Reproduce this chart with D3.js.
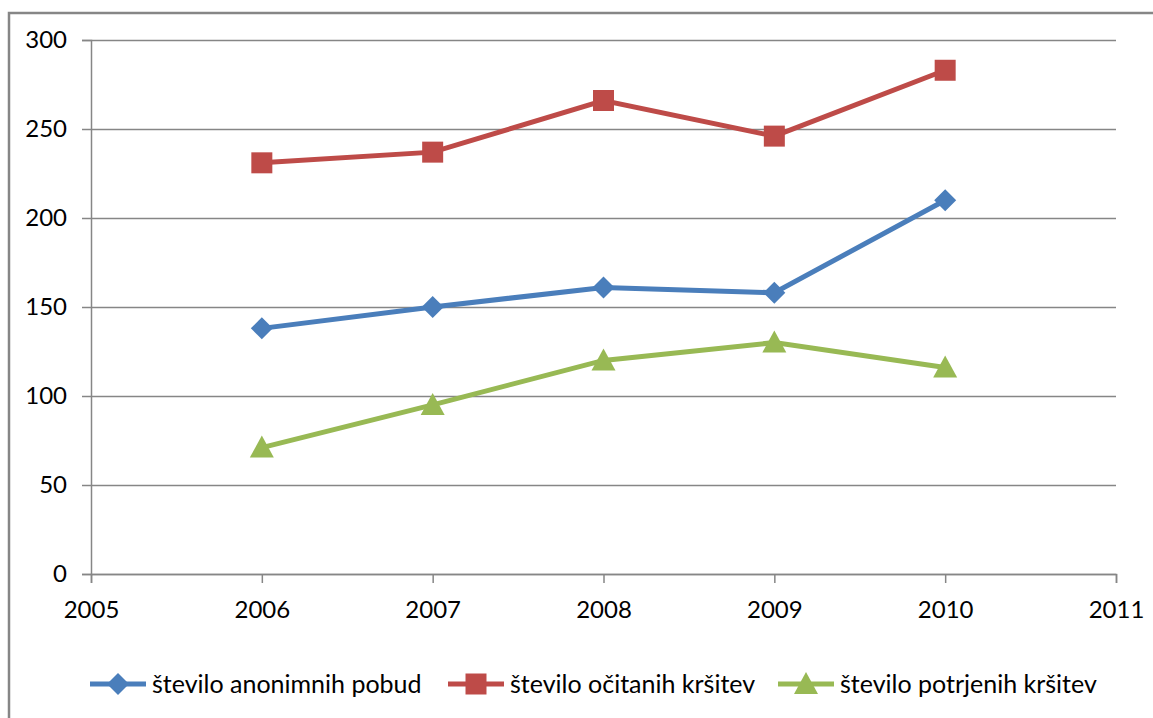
<!DOCTYPE html>
<html>
<head>
<meta charset="utf-8">
<script src="https://cdn.jsdelivr.net/npm/d3@7"></script>
<style>
  body { margin: 0; background: #fff; }
  text { font-family: Lato, "Open Sans", sans-serif; fill: #000; }
</style>
</head>
<body>
<div id="chart"></div>
<script>
var years = [2006, 2007, 2008, 2009, 2010];
var anonimnih = [138, 150, 161, 158, 210];
var ocitanih = [231, 237, 266, 246, 283];
var potrjenih = [71, 95, 120, 130, 116];
var yTicks = [0, 50, 100, 150, 200, 250, 300];
var xTicks = [2005, 2006, 2007, 2008, 2009, 2010, 2011];

// marker shapes (Excel-like)
var diamond = "M0,-11L11,0L0,11L-11,0Z";
var square = "M-10.5,-10.5H10.5V10.5H-10.5Z";
var triangle = "M0,-12L12,10H-12Z";

var series = [
  {name: "število anonimnih pobud", values: anonimnih, color: "#4a7ebb", marker: diamond},
  {name: "število očitanih kršitev", values: ocitanih, color: "#be4b48", marker: square},
  {name: "število potrjenih kršitev", values: potrjenih, color: "#98b954", marker: triangle}
];

var width = 1153, height = 718;
var margin = {top: 40, right: 37, bottom: 144, left: 91};

var svg = d3.select("#chart").append("svg")
  .attr("width", width)
  .attr("height", height);

// chart frame
svg.append("rect")
  .attr("x", 9).attr("y", 13)
  .attr("width", width).attr("height", height)
  .attr("fill", "none")
  .attr("stroke", "#868686")
  .attr("stroke-width", 2.5);

var x = d3.scaleLinear()
  .domain([2005, 2011])
  .range([margin.left, width - margin.right]);

var y = d3.scaleLinear()
  .domain([0, 300])
  .range([height - margin.bottom, margin.top]);

// gridlines
svg.append("g")
  .attr("transform", "translate(" + margin.left + ",0)")
  .call(d3.axisLeft(y).tickValues(yTicks).tickSize(-(width - margin.right - margin.left)).tickFormat(""))
  .call(function(g) { g.select(".domain").remove(); })
  .selectAll("line").attr("stroke", "#868686").attr("stroke-width", 1.5);

// y axis
var yAxis = svg.append("g")
  .attr("transform", "translate(" + margin.left + ",0)")
  .call(d3.axisLeft(y).tickValues(yTicks).tickSize(9).tickPadding(15));
yAxis.select(".domain").attr("stroke", "#868686").attr("stroke-width", 1.5);
yAxis.selectAll("line").attr("stroke", "#868686").attr("stroke-width", 1.5);
yAxis.selectAll("text").style("font-size", "24px").attr("fill", "#000");

// x axis
var xAxis = svg.append("g")
  .attr("transform", "translate(0," + y(0) + ")")
  .call(d3.axisBottom(x).tickValues(xTicks).tickFormat(d3.format("d")).tickSize(9).tickPadding(18));
xAxis.select(".domain").attr("stroke", "#868686").attr("stroke-width", 1.5);
xAxis.selectAll("line").attr("stroke", "#868686").attr("stroke-width", 1.5);
xAxis.selectAll("text").style("font-size", "24px").attr("fill", "#000");

var line = d3.line()
  .x(function(d, i) { return x(years[i]); })
  .y(function(d) { return y(d); });

series.forEach(function(s) {
  svg.append("path")
    .datum(s.values)
    .attr("d", line)
    .attr("fill", "none")
    .attr("stroke", s.color)
    .attr("stroke-width", 5);
  svg.selectAll(null)
    .data(s.values)
    .enter().append("path")
    .attr("transform", function(d, i) { return "translate(" + x(years[i]) + "," + y(d) + ")"; })
    .attr("d", s.marker)
    .attr("fill", s.color);
});

// legend
var legendX = [90, 448, 778];
var legend = svg.selectAll(".legend")
  .data(series)
  .enter().append("g")
  .attr("class", "legend")
  .attr("transform", function(d, i) { return "translate(" + legendX[i] + ",684)"; });
legend.append("line")
  .attr("x1", 0).attr("x2", 56)
  .attr("stroke", function(d) { return d.color; })
  .attr("stroke-width", 5);
legend.append("path")
  .attr("transform", "translate(28,0)")
  .attr("d", function(d) { return d.marker; })
  .attr("fill", function(d) { return d.color; });
legend.append("text")
  .attr("x", 62)
  .attr("dy", "0.35em")
  .style("font-size", "25px")
  .text(function(d) { return d.name; });
</script>
</body>
</html>
